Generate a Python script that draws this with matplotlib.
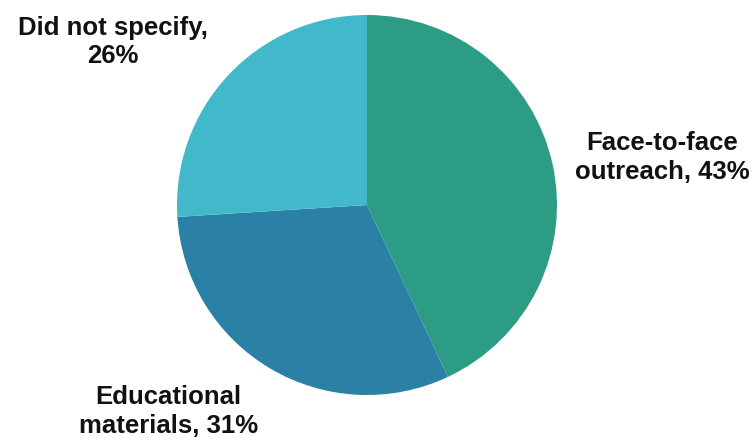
import matplotlib
matplotlib.use("Agg")
import matplotlib.pyplot as plt

# Share of respondents by outreach method
categories = ["Face-to-face\noutreach", "Educational\nmaterials", "Did not specify"]
values = [43, 31, 26]
colors = ["#2C9C84", "#2A80A5", "#42B9CA"]

# Label anchor positions (in units of pie radius)
label_xy = [(1.553, 0.25), (-1.047, -1.088), (-1.337, 0.858)]

plt.rcParams["font.family"] = ["Liberation Sans", "DejaVu Sans"]

W, H = 752, 438
fig = plt.figure(figsize=(W / 100, H / 100), dpi=100)
cx, cy, r = 367, 233, 190
ax = fig.add_axes([(cx - r) / W, (cy - r) / H, 2 * r / W, 2 * r / H])

ax.pie(values, colors=colors, startangle=90, counterclock=False,
       radius=1.0, wedgeprops=dict(linewidth=0))
ax.set_xlim(-1, 1)
ax.set_ylim(-1, 1)
ax.set_aspect("equal")
ax.axis("off")

for cat, val, (x, y) in zip(categories, values, label_xy):
    if "\n" in cat:
        text = f"{cat}, {val}%"
    else:
        text = f"{cat},\n{val}%"
    ax.text(x, y, text, ha="center", va="center", fontsize=18.5,
            fontweight="bold", color="#111111", linespacing=1.25,
            clip_on=False)

fig.savefig("out.png", dpi=100)
